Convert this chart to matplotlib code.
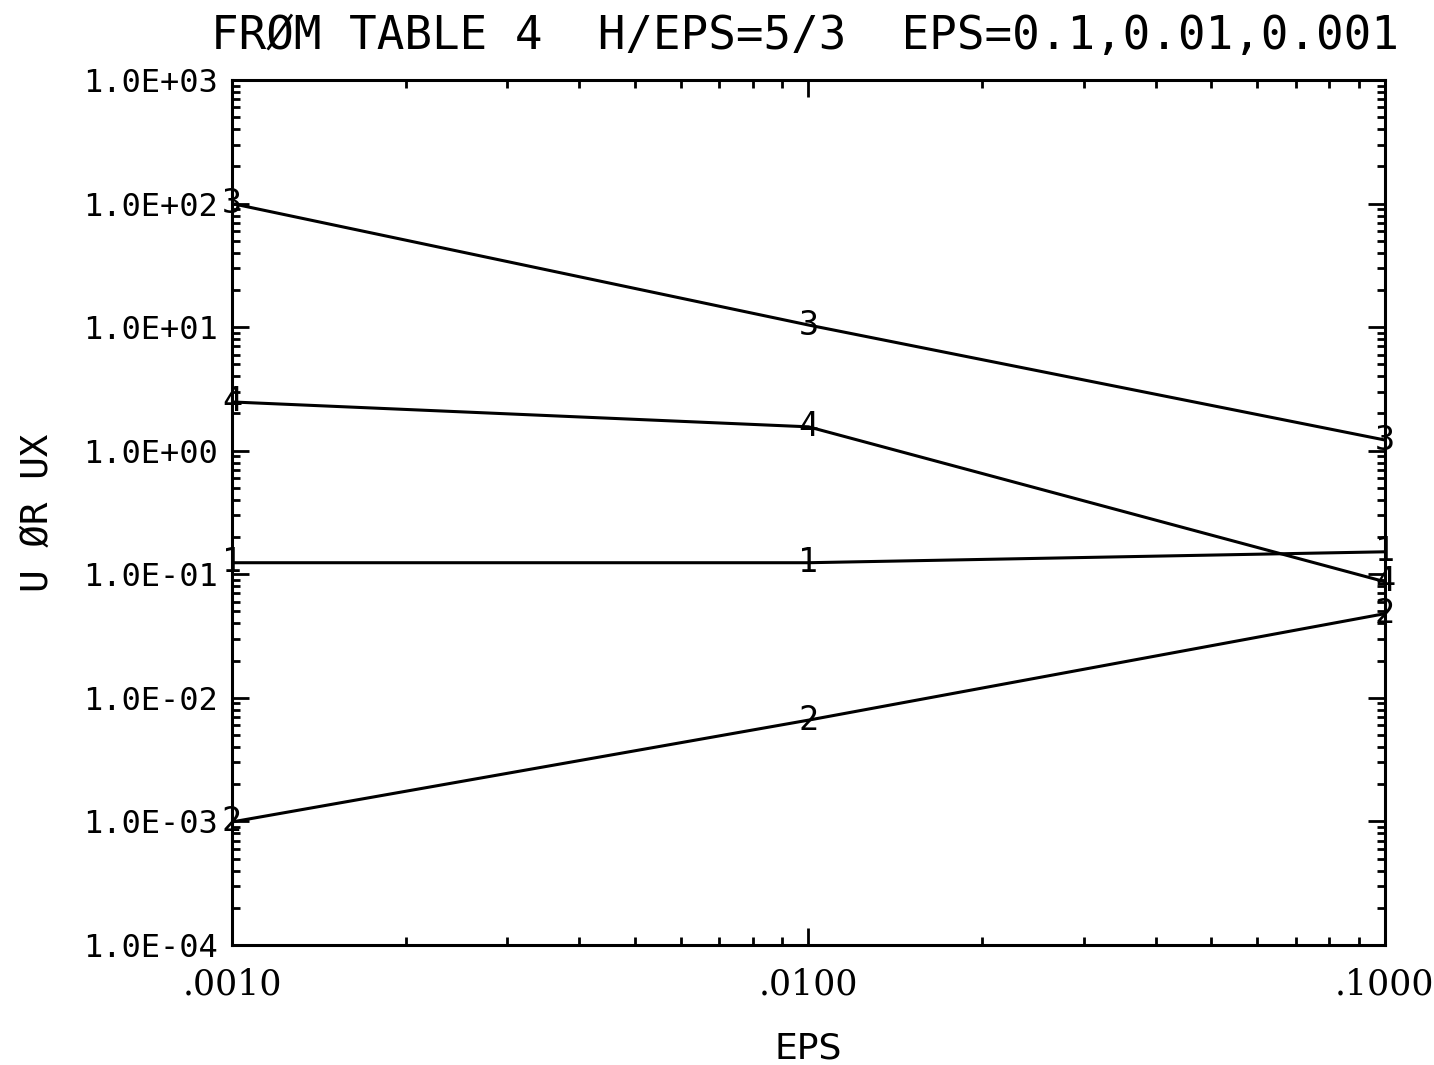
import numpy as np
import matplotlib
matplotlib.use('Agg')
import matplotlib.pyplot as plt
from matplotlib.ticker import FixedLocator, LogLocator, NullFormatter

# data
eps = [0.001, 0.01, 0.1]
curve1 = [0.124, 0.124, 0.152]
curve2 = [0.00099, 0.0066, 0.048]
curve3 = [100.0, 10.4, 1.22]
curve4 = [2.48, 1.56, 0.087]
curves = {'1': curve1, '2': curve2, '3': curve3, '4': curve4}

xticks = [0.001, 0.01, 0.1]
xticklabels = ['.0010', '.0100', '.1000']
yticks = [1e-4, 1e-3, 1e-2, 1e-1, 1e0, 1e1, 1e2, 1e3]
yticklabels = ['1.0E-04', '1.0E-03', '1.0E-02', '1.0E-01',
               '1.0E+00', '1.0E+01', '1.0E+02', '1.0E+03']

mono = 'DejaVu Sans Mono'

fig = plt.figure(figsize=(14.34, 10.65), dpi=100)
ax = fig.add_axes([0.1618, 0.1127, 0.804, 0.8122])

for name, vals in curves.items():
    ax.plot(eps, vals, color='black', lw=2.2)
    for x, y in zip(eps, vals):
        ax.text(x, y, name, fontsize=24, family=mono, ha='center', va='center', color='black')

ax.set_xscale('log')
ax.set_yscale('log')
ax.set_xlim(0.001, 0.1)
ax.set_ylim(1e-4, 1e3)

ax.xaxis.set_major_locator(FixedLocator(xticks))
ax.set_xticklabels(xticklabels, family='DejaVu Serif', fontsize=25)
ax.yaxis.set_major_locator(FixedLocator(yticks))
ax.set_yticklabels(yticklabels, family=mono, fontsize=23)
ax.xaxis.set_minor_locator(LogLocator(base=10, subs=np.arange(2, 10), numticks=20))
ax.yaxis.set_minor_locator(LogLocator(base=10, subs=np.arange(2, 10), numticks=20))
ax.xaxis.set_minor_formatter(NullFormatter())
ax.yaxis.set_minor_formatter(NullFormatter())

ax.tick_params(which='both', direction='in', top=True, right=True, width=2, color='black')
ax.tick_params(which='major', length=12)
ax.tick_params(axis='x', which='major', pad=16)
ax.tick_params(axis='y', which='major', pad=10)
ax.tick_params(which='minor', length=6)
for s in ax.spines.values():
    s.set_linewidth(2.2)

ax.set_xlabel('EPS', fontsize=26, family='DejaVu Sans', labelpad=22)
ax.set_ylabel('U ØR UX', fontsize=27, family=mono, labelpad=20)
fig.text(0.561, 0.966, 'FRØM TABLE 4  H/EPS=5/3  EPS=0.1,0.01,0.001',
         fontsize=33, family=mono, ha='center', va='center')

fig.savefig('out.png', dpi=100)
